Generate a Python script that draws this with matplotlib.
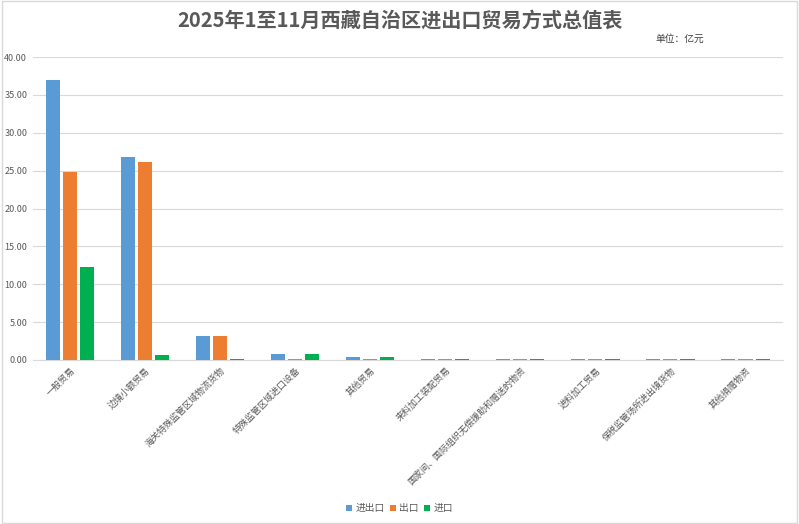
import numpy as np
import matplotlib.pyplot as plt
from matplotlib.patches import Rectangle

plt.rcParams['font.family'] = ['Noto Sans CJK SC', 'DejaVu Sans']

categories = ["一般贸易", "边境小额贸易", "海关特殊监管区域物流货物", "特殊监管区域进口设备",
              "其他贸易", "来料加工装配贸易", "国家间、国际组织无偿援助和赠送的物资",
              "进料加工贸易", "保税监管场所进出境货物", "其他捐赠物资"]
total = [37.0, 26.8, 3.2, 0.75, 0.45, 0.12, 0.12, 0.12, 0.12, 0.12]
export = [24.8, 26.1, 3.2, 0.12, 0.12, 0.12, 0.12, 0.12, 0.12, 0.12]
imports = [12.3, 0.7, 0.12, 0.75, 0.4, 0.12, 0.12, 0.12, 0.12, 0.12]
series_names = ["进出口", "出口", "进口"]
colors = ["#5B9BD5", "#ED7D31", "#00B050"]

fig = plt.figure(figsize=(7.99, 5.24), dpi=100)
ax = fig.add_axes([0.041, 0.313, 0.939, 0.578])

x = np.arange(len(categories))
w = 0.187
step = 0.227
for i, (vals, name, c) in enumerate(zip([total, export, imports], series_names, colors)):
    ax.bar(x + (i - 1) * step, vals, w, color=c, label=name, zorder=3)

ax.set_xlim(-0.5, len(categories) - 0.5)
ax.set_ylim(0, 40)
ax.set_yticks(np.arange(0, 41, 5))
ax.set_yticklabels(["%.2f" % v for v in np.arange(0, 41, 5)], fontsize=6.5, color="#595959")
ax.grid(axis="y", color="#d9d9d9", linewidth=0.8, zorder=0)
ax.tick_params(axis="both", length=0, pad=4)
for s in ["top", "right", "left"]:
    ax.spines[s].set_visible(False)
ax.spines["bottom"].set_color("#d9d9d9")

ax.set_xticks(x)
ax.set_xticklabels(categories, rotation=45, ha="right", rotation_mode="anchor",
                   fontsize=6.5, color="#595959")

fig.text(0.5, 0.962, "2025年1至11月西藏自治区进出口贸易方式总值表", ha="center", va="center",
         fontsize=14.5, fontweight="bold", color="#595959")
fig.text(0.82, 0.925, "单位：亿元", ha="left", va="center", fontsize=7, color="#404040")

fig.legend(loc="center", bbox_to_anchor=(0.5, 0.03), ncol=3, frameon=False, fontsize=7,
           handlelength=0.6, handleheight=0.6, handletextpad=0.3, columnspacing=0.6,
           labelcolor="#595959")

fig.patches.append(Rectangle((0.002, 0.002), 0.996, 0.996, transform=fig.transFigure,
                             fill=False, edgecolor="#d9d9d9", linewidth=1))

fig.savefig("out.png", dpi=100)
